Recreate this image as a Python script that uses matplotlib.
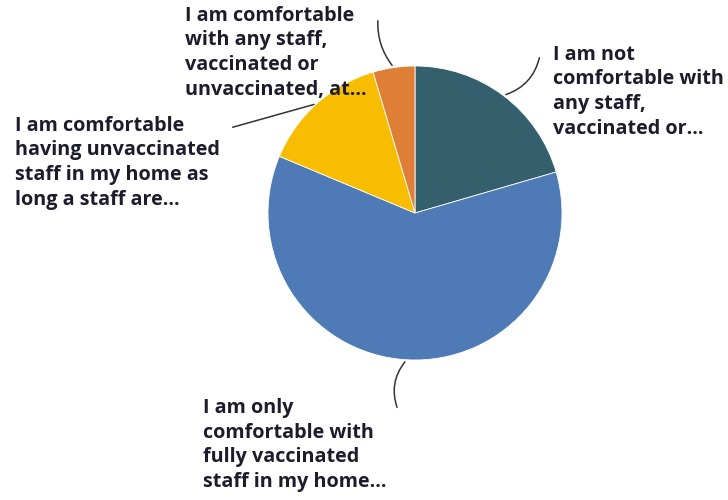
import numpy as np
import matplotlib.pyplot as plt

labels = [
    "I am not\ncomfortable with\nany staff,\nvaccinated or...",
    "I am only\ncomfortable with\nfully vaccinated\nstaff in my home...",
    "I am comfortable\nhaving unvaccinated\nstaff in my home as\nlong a staff are...",
    "I am comfortable\nwith any staff,\nvaccinated or\nunvaccinated, at...",
]
values = [20.5, 60.8, 14.1, 4.6]
colors = ["#345f6c", "#4e7bb6", "#f8bd00", "#df7e35"]

# label text anchor (top-left, pixels from top-left) and leader end points
text_pos = [(553, 45), (203, 398), (15, 116), (185, 6)]
line_end = [(540, 55), (398, 410), (230, 128), (378, 18)]
rads = [-0.3, -0.3, 0.0, 0.2]

W, H = 728, 500
fig = plt.figure(figsize=(W / 100, H / 100), dpi=100)
ax = fig.add_axes([0, 0, 1, 1])

cx, cy, r = 415, 213, 147
wedges, _ = ax.pie(values, colors=colors, startangle=90, counterclock=False,
                   center=(cx, H - cy), radius=r, frame=True,
                   wedgeprops=dict(edgecolor="white", linewidth=0.6))
ax.set_xlim(0, W)
ax.set_ylim(0, H)
ax.set_aspect("equal")
ax.axis("off")

for w, lab, tp, le, rad in zip(wedges, labels, text_pos, line_end, rads):
    ang = np.deg2rad((w.theta1 + w.theta2) / 2)
    px = cx + r * np.cos(ang)
    py = H - cy + r * np.sin(ang)
    ax.annotate("", xy=(px, py), xytext=(le[0], H - le[1]),
                arrowprops=dict(arrowstyle="-", color="#333333", lw=1.1,
                                connectionstyle=f"arc3,rad={rad}"))
    ax.text(tp[0], H - tp[1], lab, ha="left", va="top", fontsize=14.2,
            fontweight="bold", family="Open Sans", color="#1c1c2c",
            linespacing=1.3, zorder=5)

fig.savefig("out.png", dpi=100)
